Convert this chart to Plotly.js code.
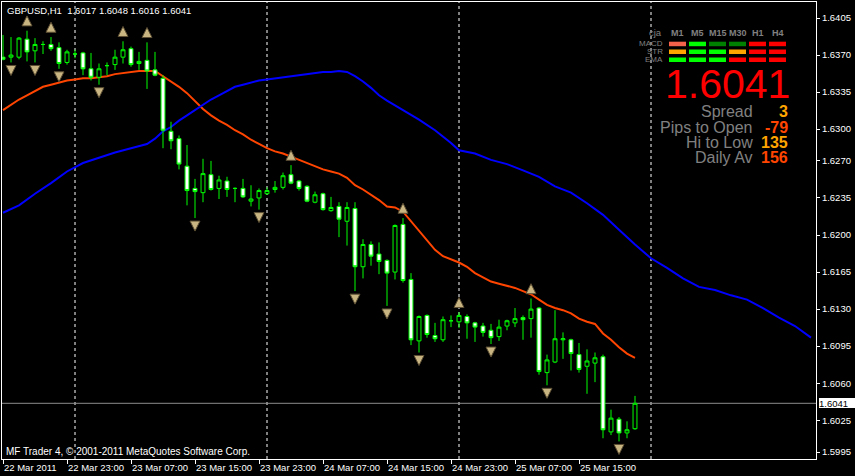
<!DOCTYPE html>
<html><head><meta charset="utf-8">
<script src="https://cdn.plot.ly/plotly-3.0.1.min.js"></script>
<style>html,body{margin:0;padding:0;background:#000;} #chart{width:855px;height:476px;}</style>
</head><body><div id="chart"></div>
<script>
// ---------- data ----------
const symbolName = 'GBPUSD,H1';
const copyrightText = 'MF Trader 4, \u00a9 2001-2011 MetaQuotes Software Corp.';
const startHour = 15; // first bar: 22 Mar 2011 15:00
const xTickLabels = ['22 Mar 2011','22 Mar 23:00','23 Mar 07:00','23 Mar 15:00','23 Mar 23:00',
  '24 Mar 07:00','24 Mar 15:00','24 Mar 23:00','25 Mar 07:00','25 Mar 15:00'];
const priceTicks = [1.6405,1.6370,1.6335,1.6300,1.6270,1.6235,1.6200,1.6165,1.6130,1.6095,1.6060,1.6025,1.5995];

const opens = [1.6368,1.6368,1.6368,1.6385,1.6374,1.6380,1.6380,1.6377,1.6363,1.6371,
 1.6372,1.6357,1.6349,1.6360,1.6361,1.6368,1.6376,1.6362,1.6365,1.6356,
 1.6348,1.6298,1.6291,1.6265,1.6244,1.6240,1.6257,1.6244,1.6251,1.6244,
 1.6244,1.6232,1.6235,1.6239,1.6243,1.6245,1.6257,1.6251,1.6246,1.6231,
 1.6239,1.6223,1.6227,1.6213,1.6225,1.6170,1.6191,1.6182,1.6176,1.6165,
 1.6210,1.6158,1.6100,1.6124,1.6105,1.6101,1.6119,1.6118,1.6123,1.6117,
 1.6114,1.6110,1.6104,1.6114,1.6117,1.6122,1.6121,1.6131,1.6070,1.6080,
 1.6101,1.6101,1.6087,1.6076,1.6079,1.6085,1.6014,1.6026,1.6013,1.6017];
const highs = [1.6389,1.6387,1.6387,1.6393,1.6386,1.6383,1.6387,1.6382,1.6375,1.6375,
 1.6373,1.6372,1.6362,1.6363,1.6375,1.6383,1.6378,1.6373,1.6382,1.6373,
 1.6351,1.6307,1.6294,1.6285,1.6253,1.6272,1.6270,1.6256,1.6255,1.6245,
 1.6253,1.6247,1.6244,1.6245,1.6251,1.6259,1.6266,1.6252,1.6247,1.6241,
 1.6240,1.6236,1.6231,1.6231,1.6231,1.6196,1.6194,1.6193,1.6177,1.6210,
 1.6216,1.6164,1.6124,1.6125,1.6117,1.6123,1.6124,1.6127,1.6125,1.6118,
 1.6117,1.6116,1.6120,1.6120,1.6131,1.6124,1.6140,1.6132,1.6087,1.6129,
 1.6108,1.6102,1.6098,1.6092,1.6089,1.6087,1.6035,1.6028,1.6024,1.6048];
const lows = [1.6365,1.6363,1.6366,1.6364,1.6363,1.6371,1.6374,1.6357,1.6361,1.6367,
 1.6351,1.6346,1.6342,1.6351,1.6356,1.6362,1.6359,1.6356,1.6338,1.6350,
 1.6282,1.6281,1.6262,1.6228,1.6216,1.6231,1.6242,1.6234,1.6236,1.6231,
 1.6235,1.6227,1.6224,1.6238,1.6240,1.6243,1.6248,1.6242,1.6231,1.6230,
 1.6223,1.6222,1.6198,1.6190,1.6147,1.6159,1.6171,1.6163,1.6133,1.6158,
 1.6155,1.6096,1.6089,1.6103,1.6099,1.6099,1.6113,1.6112,1.6102,1.6099,
 1.6104,1.6097,1.6100,1.6110,1.6113,1.6101,1.6103,1.6068,1.6058,1.6079,
 1.6083,1.6072,1.6070,1.6050,1.6061,1.6008,1.6011,1.6005,1.6008,1.6016];
const closes = [1.6366,1.6370,1.6386,1.6373,1.6380,1.6380,1.6376,1.6362,1.6373,1.6371,
 1.6357,1.6349,1.6357,1.6360,1.6368,1.6375,1.6361,1.6364,1.6355,1.6351,
 1.6299,1.6289,1.6267,1.6242,1.6241,1.6258,1.6243,1.6252,1.6243,1.6244,
 1.6236,1.6234,1.6242,1.6242,1.6245,1.6256,1.6249,1.6244,1.6232,1.6238,
 1.6224,1.6226,1.6215,1.6226,1.6170,1.6191,1.6180,1.6175,1.6164,1.6209,
 1.6157,1.6101,1.6123,1.6106,1.6102,1.6120,1.6119,1.6124,1.6117,1.6113,
 1.6108,1.6103,1.6113,1.6119,1.6121,1.6120,1.6130,1.6071,1.6082,1.6102,
 1.6102,1.6088,1.6073,1.6081,1.6084,1.6016,1.6027,1.6013,1.6016,1.6041];

const redMA = [1.6318,1.6323,1.6328,1.6332,1.6336,1.6340,1.6342,1.6344,1.6346,1.6347,
 1.6348,1.6348,1.6349,1.6350,1.6352,1.6353,1.6354,1.6355,1.6355,1.6355,
 1.6350,1.6345,1.6340,1.6334,1.6326,1.6319,1.6313,1.6308,1.6304,1.6299,
 1.6295,1.6290,1.6286,1.6282,1.6279,1.6277,1.6274,1.6271,1.6268,1.6265,
 1.6262,1.6260,1.6258,1.6254,1.6247,1.6243,1.6238,1.6233,1.6227,1.6226,
 1.6222,1.6213,1.6203,1.6195,1.6186,1.6180,1.6177,1.6174,1.6170,1.6164,
 1.6160,1.6156,1.6154,1.6152,1.6150,1.6147,1.6144,1.6139,1.6134,1.6131,
 1.6129,1.6126,1.6121,1.6118,1.6116,1.6107,1.6101,1.6094,1.6088,1.6084];

const blueBars = [0,2,4,6,8,10,12,14,16,18,19,20,21,22,23,24,25,26,27,28,29,30,31,32,33,34,35,36,37,38,39,40,41,42,43,44,45,46,47,48,50,52,54,56,57,59,61,63,65,67,69,71,73,75,77,79,81,83,85,87,89,91,93,95,97,99,101];
const blueMA = [1.6221,1.6228,1.6239,1.6249,1.6260,1.6268,1.6273,1.6278,1.6282,1.6286,
 1.6291,1.6298,1.6302,1.6308,1.6313,1.6318,1.6323,1.6328,1.6332,1.6336,1.6340,1.6342,1.6344,1.6346,1.6347,1.6348,1.6349,1.6350,1.6351,1.6352,1.6353,1.6354,1.6354,1.6355,1.6354,1.6350,1.6345,1.6339,1.6332,1.6327,
 1.6318,1.6309,1.6299,1.6287,1.6280,
 1.6277,1.6271,1.6267,1.6261,1.6255,1.6246,1.6240,1.6230,1.6219,1.6205,1.6191,
 1.6178,1.6169,1.6159,1.6151,1.6148,1.6143,1.6139,1.6131,1.6122,1.6114,1.6103];

const upFractalBars = [3,6,15,18,36,50,57,66];
const downFractalBars = [1,4,7,12,24,32,44,48,52,61,68,77];

const tfHeaders = ['M1','M5','M15','M30','H1','H4'];
const rowLabels = ['MACD','STR','EMA'];
const macdColors = ['#F4624C','#00FF00','#008000','#008000','#FF0000','#FF0000'];
const strColors  = ['#FFA500','#00FF00','#00FF00','#FFA500','#FF0000','#FF0000'];
const emaColors  = ['#00FF00','#00FF00','#00FF00','#FF0000','#FF0000','#FF0000'];
const statLabels = ['Spread','Pips to Open','Hi to Low','Daily Av'];
const statValues = ['3','-79','135','156'];
const statColors = ['#FFA500','#FF4500','#FFA500','#FF4500'];

// ---------- layout helpers ----------
const W = 855, H = 476, ML = 2, MR = 39, MT = 2, MB = 17;
const plotW = W - ML - MR, plotH = H - MT - MB;
const px = x => (x - ML) / plotW;
const py = y => (H - MB - y) / plotH;
const FONT = 'Liberation Sans, Arial, sans-serif';
const xRange = [-0.125, 101.625];
const yRange = [1.598839, 1.642012];
const bars = opens.map((_, i) => i);
const last = bars.length - 1;

const traces = [
  {type:'scatter', mode:'lines', x: bars, y: redMA, line:{color:'#FF4500', width:2}, hoverinfo:'skip', xaxis:'x', yaxis:'y'},
  {type:'scatter', mode:'lines', x: blueBars, y: blueMA, line:{color:'#0000FF', width:2}, hoverinfo:'skip', xaxis:'x', yaxis:'y'},
  {type:'candlestick', x: bars, open: opens, high: highs, low: lows, close: closes,
   increasing:{line:{color:'#00FF00', width:1}, fillcolor:'#000000'},
   decreasing:{line:{color:'#00FF00', width:1}, fillcolor:'#FFFFFF'},
   whiskerwidth:0, hoverinfo:'skip', xaxis:'x2', yaxis:'y2'},
  {type:'scatter', mode:'markers', x: upFractalBars, y: upFractalBars.map(k => highs[k] + 0.0014),
   marker:{symbol:'arrow-up', size:10, color:'#C8B582', line:{color:'#5C4E33', width:1}}, hoverinfo:'skip', xaxis:'x2', yaxis:'y2'},
  {type:'scatter', mode:'markers', x: downFractalBars, y: downFractalBars.map(k => lows[k] - 0.00123),
   marker:{symbol:'arrow-down', size:10, color:'#C8B582', line:{color:'#5C4E33', width:1}}, hoverinfo:'skip', xaxis:'x2', yaxis:'y2'}
];

const shapes = [];
for (let k = 0; k <= 101; k++) {
  if ((startHour + k) % 24 === 0) {
    shapes.push({type:'line', xref:'x', yref:'paper', x0:k, x1:k, y0:0, y1:1, layer:'below',
      line:{color:'#FFFFFF', width:1, dash:'3px,3px'}});
  }
}
shapes.push({type:'line', xref:'paper', yref:'y', x0:0, x1:1, y0:closes[last], y1:closes[last], layer:'below',
  line:{color:'#8C8C8C', width:1}});

const colX = [677.5, 697.5, 717.5, 737.5, 757.5, 777.5];
const rowY = [[41.7,46.2],[49.5,54],[57.5,62]];
[macdColors, strColors, emaColors].forEach((cols, r) => {
  cols.forEach((c, i) => {
    shapes.push({type:'rect', xref:'paper', yref:'paper', x0:px(colX[i]-8.5), x1:px(colX[i]+8.5),
      y0:py(rowY[r][1]), y1:py(rowY[r][0]), fillcolor:c, line:{width:0}, layer:'above'});
  });
});

const ann = [];
function txt(text, x, y, size, color, xanchor, bold, extra) {
  ann.push(Object.assign({text: bold ? '<b>' + text + '</b>' : text, xref:'paper', yref:'paper', x:px(x), y:py(y),
    xanchor:xanchor, yanchor:'middle', showarrow:false, borderpad:0, borderwidth:0,
    font:{family:FONT, size:size, color:color}}, extra || {}));
}
const nb = '\u00a0';
txt(symbolName + nb + nb + [opens[last], highs[last], lows[last], closes[last]].map(v => v.toFixed(4)).join(nb),
  6.8, 10.5, 9.5, '#FFFFFF', 'left');
txt(copyrightText, 6.3, 451, 10, '#FFFFFF', 'left');
txt('cja', 655, 33, 9.5, '#808080', 'center');
tfHeaders.forEach((h, i) => txt(h, colX[i], 33.3, 9, '#808080', 'center', true));
rowLabels.forEach((r, i) => txt(r, 663, [43.6, 51.4, 59.6][i], 8, '#808080', 'right'));
txt(closes[last].toFixed(4), 790, 84.4, 41, '#FF0000', 'right');
statLabels.forEach((s, i) => txt(s, 753, 111.8 + 15.25 * i, 16, '#808080', 'right'));
statValues.forEach((s, i) => txt(s, 788, 111.8 + 15.25 * i, 16, statColors[i], 'right', true));
ann.push({text: closes[last].toFixed(4), xref:'paper', yref:'y', x:1, y:closes[last], xanchor:'left', yanchor:'middle',
  xshift:3, showarrow:false, bgcolor:'#FFFFFF', borderpad:0, borderwidth:0, width:36, height:10, align:'left',
  font:{family:FONT, size:9.5, color:'#000000'}});

const axFont = {family:FONT, size:9.5, color:'#FFFFFF'};
const layout = {
  width:W, height:H, margin:{l:ML, r:MR, t:MT, b:MB, pad:0},
  paper_bgcolor:'#000000', plot_bgcolor:'#000000', showlegend:false,
  xaxis:{range:xRange, tickvals:xTickLabels.map((_, i) => i * 8), ticktext:xTickLabels, tickangle:0,
    ticks:'outside', ticklen:4, tickcolor:'#FFFFFF', tickwidth:1, ticklabelposition:'outside right',
    showgrid:false, zeroline:false, showline:true, mirror:true, linecolor:'#FFFFFF', linewidth:1,
    tickfont:axFont, rangeslider:{visible:false}, fixedrange:true},
  yaxis:{range:yRange, side:'right', tickvals:priceTicks, ticktext:priceTicks.map(v => v.toFixed(4)),
    ticks:'outside', ticklen:3, tickcolor:'#FFFFFF', tickwidth:1,
    showgrid:false, zeroline:false, showline:true, mirror:true, linecolor:'#FFFFFF', linewidth:1,
    tickfont:axFont, fixedrange:true},
  xaxis2:{range:xRange, overlaying:'x', visible:false, rangeslider:{visible:false}, fixedrange:true},
  yaxis2:{range:yRange, overlaying:'y', visible:false, fixedrange:true},
  shapes:shapes, annotations:ann
};
Plotly.newPlot('chart', traces, layout, {staticPlot:true, displayModeBar:false});
</script></body></html>
